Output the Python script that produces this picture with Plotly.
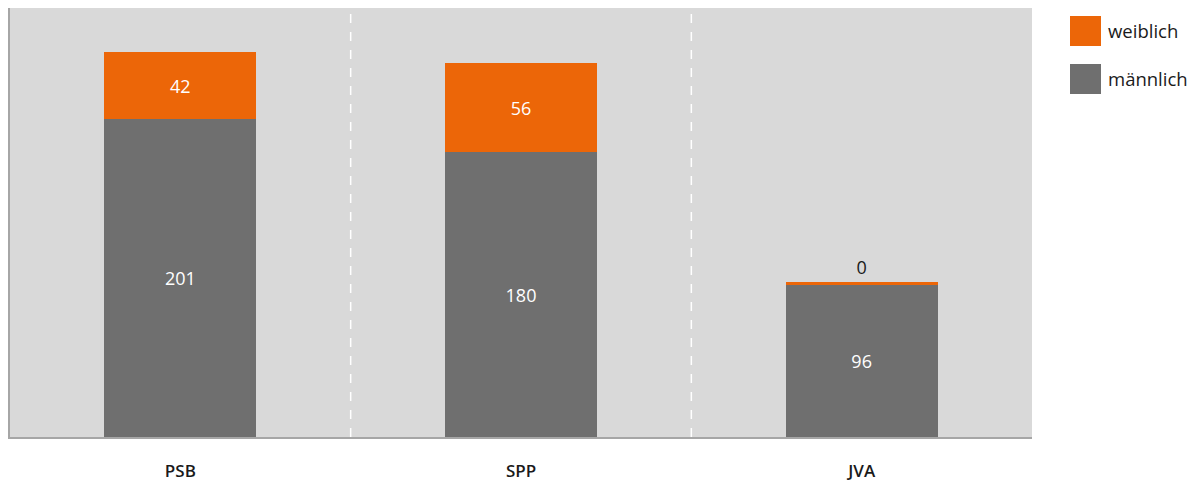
import plotly.graph_objects as go

categories = ["PSB", "SPP", "JVA"]
maennlich = [201, 180, 96]
weiblich = [42, 56, 0]
series_names = ["weiblich", "männlich"]
colors = {"weiblich": "#ec6608", "männlich": "#6f6f6f"}

FONT = "Open Sans"

# zero values drawn as a thin visible stripe, labelled with the real value
weiblich_draw = [v if v > 0 else 2 for v in weiblich]
w_textpos = ["inside" if v > 0 else "outside" for v in weiblich]

fig = go.Figure()
fig.add_trace(go.Bar(
    x=categories, y=maennlich, name="männlich",
    marker=dict(color=colors["männlich"], line=dict(width=0)),
    text=[str(v) for v in maennlich], textposition="inside",
    insidetextanchor="middle",
    textfont=dict(family=FONT, size=18, color="#ffffff"),
    showlegend=False, hoverinfo="skip",
))
fig.add_trace(go.Bar(
    x=categories, y=weiblich_draw, name="weiblich",
    marker=dict(color=colors["weiblich"], line=dict(width=0)),
    text=[str(v) for v in weiblich], textposition=w_textpos,
    insidetextanchor="middle",
    insidetextfont=dict(family=FONT, size=18, color="#ffffff"),
    outsidetextfont=dict(family=FONT, size=18, color="#1a1a1a"),
    cliponaxis=False,
    showlegend=False, hoverinfo="skip",
))

shapes = []
for i in range(len(categories) - 1):
    shapes.append(dict(type="line", xref="x", yref="paper", x0=i + 0.5, x1=i + 0.5,
                       y0=0, y1=1, line=dict(color="#ffffff", width=1.5, dash="dash"), layer="above"))

# custom legend with large squares
annotations = []
for j, name in enumerate(series_names):
    yc = 31 + j * 48
    shapes.append(dict(type="rect", xref="paper", yref="paper",
                       x0=(1070 - 10) / 1022, x1=(1101 - 10) / 1022,
                       y0=(437 - (yc + 15)) / 429, y1=(437 - (yc - 15)) / 429,
                       fillcolor=colors[name], line=dict(width=0)))
    annotations.append(dict(xref="paper", yref="paper", x=(1106 - 10) / 1022, y=(437 - yc) / 429,
                            text=name, showarrow=False, xanchor="left", yanchor="middle",
                            font=dict(family=FONT, size=18.5, color="#1a1a1a")))

fig.update_layout(
    width=1198, height=481,
    margin=dict(l=10, r=166, t=8, b=44, autoexpand=False),
    barmode="stack", bargap=0.554,
    plot_bgcolor="#d9d9d9", paper_bgcolor="#ffffff",
    shapes=shapes, annotations=annotations,
    uniformtext=dict(mode=False),
    xaxis=dict(showline=True, linecolor="#a6a6a6", linewidth=2, showgrid=False,
               ticks="", ticklabelstandoff=18, automargin=False,
               tickfont=dict(family=FONT, size=17, color="#1a1a1a", weight=600)),
    yaxis=dict(range=[0, 271], showline=True, linecolor="#a6a6a6", linewidth=2,
               showgrid=False, zeroline=False, showticklabels=False, ticks="",
               automargin=False),
)

fig.write_html("out.html")
